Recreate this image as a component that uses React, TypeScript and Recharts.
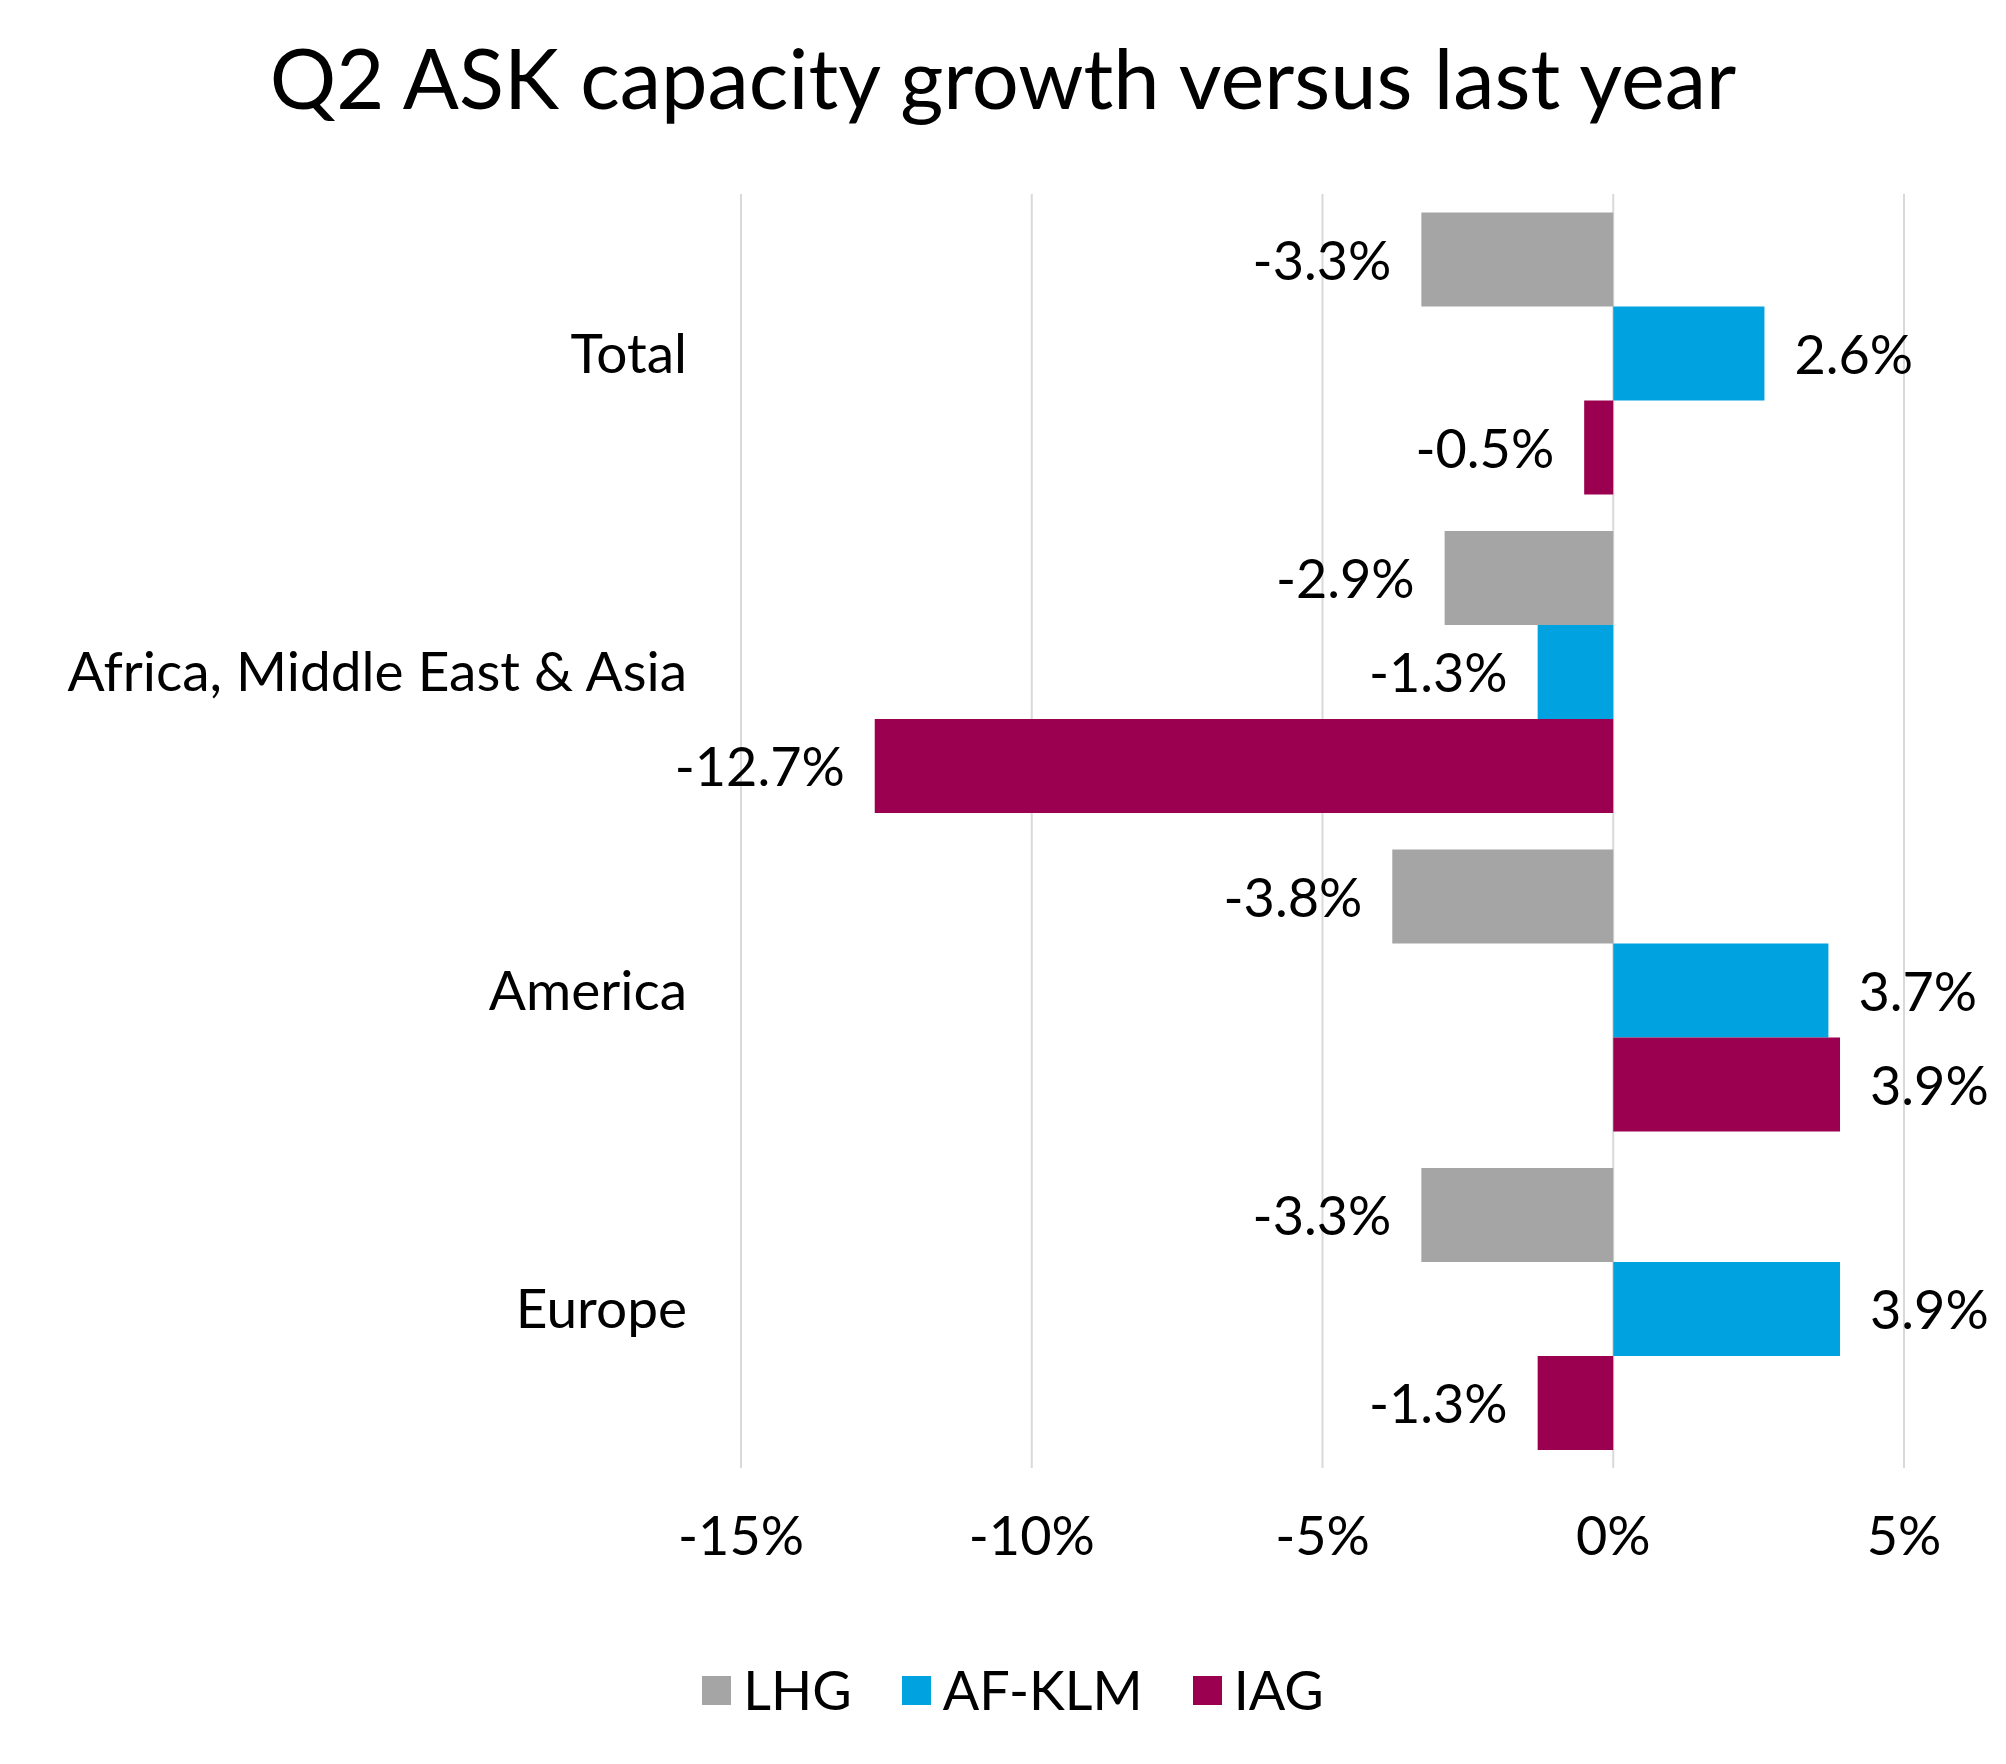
import React from "react";
import {
  Bar,
  BarChart,
  CartesianGrid,
  LabelList,
  Legend,
  XAxis,
  YAxis
} from "recharts";

const regions = ["Total", "Africa, Middle East & Asia", "America", "Europe"];
const lhg = [-3.3, -2.9, -3.8, -3.3];
const afklm = [2.6, -1.3, 3.7, 3.9];
const iag = [-0.5, -12.7, 3.9, -1.3];
const xTicks = [-15, -10, -5, 0, 5];

const series = [
  { key: "LHG", values: lhg, color: "#A5A5A5" },
  { key: "AF-KLM", values: afklm, color: "#00A3E0" },
  { key: "IAG", values: iag, color: "#9B0050" }
];

const data = regions.map((region, i) => ({
  region,
  LHG: lhg[i],
  "AF-KLM": afklm[i],
  IAG: iag[i]
}));

const font = "Lato, 'Open Sans', sans-serif";

function ValueLabel(props: any) {
  const { x, y, width, height, value } = props;
  const left = Math.min(x, x + width);
  const right = Math.max(x, x + width);
  const neg = value < 0;
  return (
    <text
      x={neg ? left - 30 : right + 30}
      y={y + height / 2}
      textAnchor={neg ? "end" : "start"}
      dominantBaseline="central"
      fontFamily={font}
      fontSize={54}
      fill="#000"
    >
      {`${value.toFixed(1)}%`}
    </text>
  );
}

function LegendContent({ payload }: any) {
  const order = series.map((s) => s.key);
  const items = [...(payload || [])].sort(
    (a: any, b: any) => order.indexOf(a.value) - order.indexOf(b.value)
  );
  return (
    <div
      style={{
        display: "flex",
        justifyContent: "center",
        alignItems: "center",
        fontFamily: font,
        fontSize: 54,
        lineHeight: "60px",
        color: "#000"
      }}
    >
      {items.map((p: any, i: number) => (
        <div
          key={p.value}
          style={{ display: "flex", alignItems: "center", marginLeft: i ? 50 : 0 }}
        >
          <span
            style={{ width: 29, height: 29, background: p.color, marginRight: 12, display: "inline-block" }}
          />
          <span>{p.value}</span>
        </div>
      ))}
    </div>
  );
}

export default function App() {
  return (
    <div style={{ position: "absolute", left: 0, top: 0, width: 2006, height: 1764, background: "#fff" }}>
      <svg width={2006} height={160} style={{ position: "absolute", left: 0, top: 0 }}>
        <text x={1003} y={109} textAnchor="middle" fontFamily={font} fontSize={83} fill="#000">
          Q2 ASK capacity growth versus last year
        </text>
      </svg>
      <div style={{ position: "absolute", left: 0, top: 0 }}>
        <BarChart
          width={2006}
          height={1764}
          data={data}
          layout="vertical"
          margin={{ top: 194, right: 102, bottom: 196, left: 0 }}
          barCategoryGap="5.8%"
          barGap={0}
        >
          <CartesianGrid horizontal={false} stroke="#D9D9D9" strokeWidth={2} />
          <XAxis
            type="number"
            domain={[-15, 5]}
            ticks={xTicks}
            tickFormatter={(v: number) => `${v}%`}
            axisLine={false}
            tickLine={false}
            tickSize={0}
            tickMargin={49}
            height={100}
            tick={{ fontFamily: font, fontSize: 54, fill: "#000" }}
          />
          <YAxis
            type="category"
            dataKey="region"
            width={741}
            axisLine={false}
            tickLine={false}
            tickSize={0}
            tickMargin={54}
            tick={{ fontFamily: font, fontSize: 55, fill: "#000" }}
          />
          <Legend
            layout="horizontal"
            verticalAlign="middle"
            align="center"
            wrapperStyle={{ top: 1660, left: 10, width: 2006 }}
            content={<LegendContent />}
          />
          {series.map((s) => (
            <Bar key={s.key} dataKey={s.key} fill={s.color} isAnimationActive={false}>
              <LabelList dataKey={s.key} content={<ValueLabel />} />
            </Bar>
          ))}
        </BarChart>
      </div>
    </div>
  );
}
